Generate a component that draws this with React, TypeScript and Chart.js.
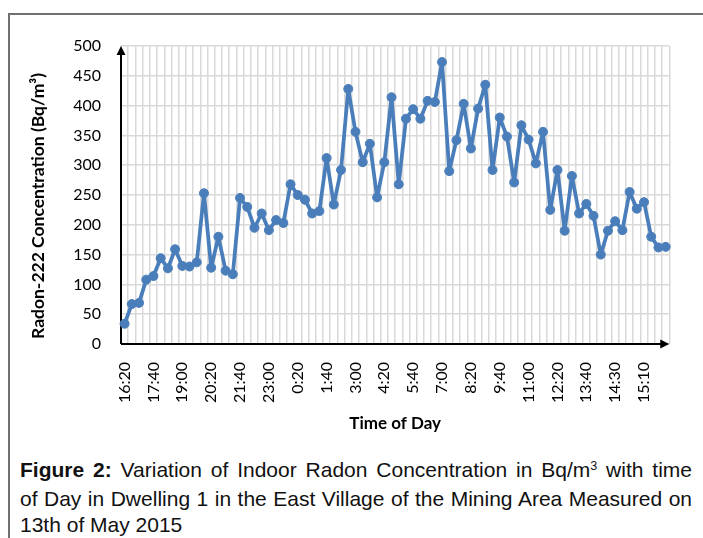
import React, { useEffect, useRef } from "react";
import { Chart, registerables } from "chart.js";

Chart.register(...registerables);

// Tick labels shown every 4th category
const tickLabels = [
  "16:20", "17:40", "19:00", "20:20", "21:40", "23:00", "0:20", "1:40", "3:00", "4:20",
  "5:40", "7:00", "8:20", "9:40", "11:00", "12:20", "13:40", "14:30", "15:10",
];

// Radon-222 concentration (Bq/m³), 76 readings
const radon = [
  34, 67, 69, 108, 114, 144, 127, 159, 131, 130,
  137, 253, 128, 180, 123, 117, 245, 230, 195, 219,
  191, 208, 203, 268, 250, 242, 219, 223, 312, 234,
  292, 428, 356, 305, 336, 246, 305, 414, 268, 378,
  394, 378, 408, 406, 473, 290, 342, 403, 328, 395,
  435, 292, 380, 348, 271, 367, 343, 303, 356, 225,
  292, 190, 282, 219, 235, 215, 150, 190, 206, 191,
  255, 227, 238, 180, 162, 163,
];

const categories = radon.map((_, i) => String(i));

const yTitle = "Radon-222 Concentration (Bq/m³)";
const xTitle = "Time of Day";

const BLUE = "#4a7ebb";
const GRID = "#d9d9d9";

export default function App() {
  const ref = useRef<HTMLCanvasElement>(null);

  useEffect(() => {
    const axisPlugin = {
      id: "axisArrows",
      beforeDatasetsDraw(chart: any) {
        const { ctx, chartArea } = chart;
        const { left, right, top, bottom } = chartArea;
        ctx.save();
        ctx.strokeStyle = "#000";
        ctx.fillStyle = "#000";
        ctx.lineWidth = 2;
        ctx.beginPath();
        ctx.moveTo(left, bottom);
        ctx.lineTo(left, top + 6);
        ctx.stroke();
        ctx.beginPath();
        ctx.moveTo(left, bottom);
        ctx.lineTo(right - 6, bottom);
        ctx.stroke();
        ctx.beginPath();
        ctx.moveTo(left, top);
        ctx.lineTo(left - 4.5, top + 9);
        ctx.lineTo(left + 4.5, top + 9);
        ctx.closePath();
        ctx.fill();
        ctx.beginPath();
        ctx.moveTo(right, bottom);
        ctx.lineTo(right - 9, bottom - 4.5);
        ctx.lineTo(right - 9, bottom + 4.5);
        ctx.closePath();
        ctx.fill();
        ctx.restore();
      },
      afterDraw(chart: any) {
        const { ctx } = chart;
        ctx.save();
        ctx.translate(38, 206);
        ctx.rotate(-Math.PI / 2);
        ctx.font = "bold 17.5px Lato";
        ctx.fillStyle = "#000";
        ctx.textAlign = "center";
        ctx.textBaseline = "middle";
        ctx.fillText(yTitle, 0, 0);
        ctx.restore();
      },
    };

    const chart = new Chart(ref.current as HTMLCanvasElement, {
      type: "line",
      data: {
        labels: categories,
        datasets: [
          {
            data: radon,
            borderColor: BLUE,
            backgroundColor: BLUE,
            borderWidth: 3.75,
            borderJoinStyle: "round",
            borderCapStyle: "round",
            pointRadius: 4.5,
            pointBackgroundColor: BLUE,
            pointBorderColor: BLUE,
            pointBorderWidth: 1,
            tension: 0,
            clip: false as any,
          },
        ],
      },
      options: {
        responsive: false,
        animation: false,
        devicePixelRatio: 1,
        layout: { padding: { top: 46, right: 20, left: 0, bottom: 0 } },
        plugins: { legend: { display: false }, tooltip: { enabled: false } },
        scales: {
          x: {
            offset: true,
            grid: { offset: true, color: GRID, lineWidth: 1.5, drawTicks: false },
            border: { display: false },
            ticks: {
              autoSkip: false,
              maxRotation: 90,
              minRotation: 90,
              padding: 18,
              color: "#000",
              font: { family: "Lato", size: 16 },
              callback: (_v: any, i: number) => (i % 4 === 0 ? tickLabels[i / 4] : ""),
            },
            title: {
              display: true,
              text: xTitle,
              color: "#000",
              font: { family: "Lato", size: 17, weight: "bold" },
              padding: { top: 0, bottom: 6 },
            },
            afterFit: (s: any) => {
              s.height = 96;
            },
          },
          y: {
            min: 0,
            max: 500,
            ticks: { stepSize: 50, padding: 20, color: "#000", font: { family: "Lato", size: 16 } },
            grid: { color: GRID, lineWidth: 1.5, drawTicks: false },
            border: { display: false },
            afterFit: (s: any) => {
              s.width = 121;
            },
          },
        },
      },
      plugins: [axisPlugin],
    });
    return () => chart.destroy();
  }, []);

  return (
    <div
      style={{
        position: "absolute",
        left: 0,
        top: 0,
        width: 703,
        height: 538,
        background: "#fff",
        overflow: "hidden",
      }}
    >
      <div
        style={{
          position: "absolute",
          left: 8,
          top: 13,
          width: 720,
          height: 560,
          borderTop: "2px solid #707070",
          borderLeft: "2px solid #707070",
        }}
      />
      <canvas
        ref={ref}
        width={703}
        height={440}
        style={{ position: "absolute", left: 0, top: 0, width: 703, height: 440 }}
      />
      <div
        style={{
          position: "absolute",
          left: 20,
          top: 457,
          width: 672,
          fontFamily: "'Liberation Sans', Arial, sans-serif",
          fontSize: "21px",
          lineHeight: "26px",
          color: "#111",
        }}
      >
        <div style={{ textAlign: "justify", textAlignLast: "justify" }}>
          <b>Figure 2:</b> Variation of Indoor Radon Concentration in Bq/m
          <span style={{ fontSize: "0.6em", position: "relative", top: "-0.55em" }}>3</span> with time
        </div>
        <div style={{ textAlign: "justify", textAlignLast: "justify" }}>
          of Day in Dwelling 1 in the East Village of the Mining Area Measured on
        </div>
        <div>13th of May 2015</div>
      </div>
    </div>
  );
}
